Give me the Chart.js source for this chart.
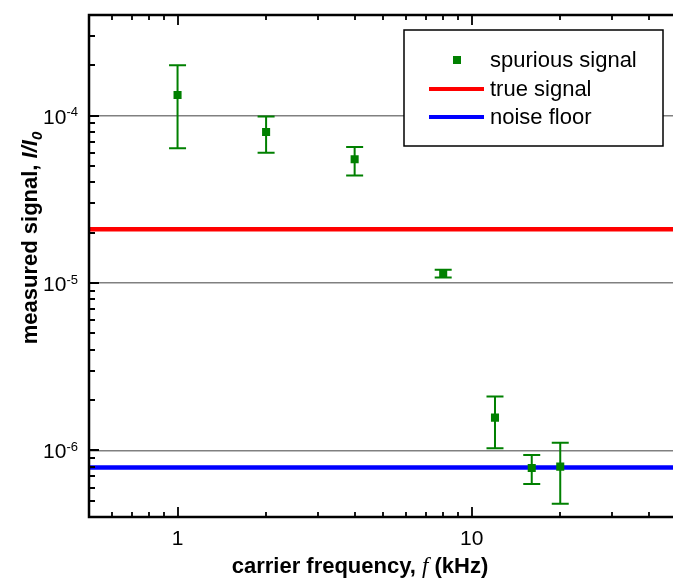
<!DOCTYPE html>
<html>
<head>
<meta charset="utf-8">
<script src="https://cdn.jsdelivr.net/npm/chart.js@4.4.1/dist/chart.umd.min.js"></script>
<style>
  html, body { margin: 0; padding: 0; background: #fff; overflow: hidden; }
  #wrap { width: 673px; height: 581px; overflow: hidden; }
</style>
</head>
<body>
<div id="wrap"><canvas id="chart" width="683" height="581"></canvas></div>
<script>
// carrier frequency (kHz) and measured spurious signal
const freqs   = [1, 2, 4, 8, 12, 16, 20];
const signal  = [1.33e-4, 8.0e-5, 5.5e-5, 1.14e-5, 1.57e-6, 7.85e-7, 8.0e-7];
const errHigh = [2.0e-4, 9.9e-5, 6.5e-5, 1.2e-5, 2.1e-6, 9.4e-7, 1.11e-6];
const errLow  = [6.4e-5, 6.0e-5, 4.4e-5, 1.08e-5, 1.03e-6, 6.3e-7, 4.8e-7];

// reference levels
const trueSignal = 2.1e-5;
const noiseFloor = 7.9e-7;

// axis ranges and tick labels
const xRange = [0.5, 50];
const yRange = [4e-7, 4e-4];
const xTickValues = [1, 10];
const xTickLabels = ['1', '10'];
const yTickValues = [1e-6, 1e-5, 1e-4];
const yTickExps = ['-6', '-5', '-4'];

const GREEN = '#008000';
const SANS = '"Liberation Sans", Arial, sans-serif';

function isDecade(v) {
    const l = Math.log10(v);
    return Math.abs(l - Math.round(l)) < 1e-6;
}

// minor tick values (1..9 of each decade) inside a range
function minorTicks(range) {
    const out = [];
    for (let e = Math.floor(Math.log10(range[0])); e <= Math.ceil(Math.log10(range[1])); e++) {
        for (let k = 1; k <= 9; k++) {
            const v = k * Math.pow(10, e);
            if (v > range[0] * 1.0001 && v < range[1] * 0.9999) out.push(v);
        }
    }
    return out;
}

// error bars, frame with inward ticks, labels, titles and legend
const decorations = {
    id: 'decorations',
    afterDatasetsDraw(chart) {
        const ctx = chart.ctx;
        const xs = chart.scales.x, ys = chart.scales.y;
        ctx.save();
        ctx.strokeStyle = GREEN;
        ctx.lineWidth = 2;
        freqs.forEach((f, i) => {
            const px = xs.getPixelForValue(f);
            const top = ys.getPixelForValue(errHigh[i]);
            const bot = ys.getPixelForValue(errLow[i]);
            ctx.beginPath();
            ctx.moveTo(px, top); ctx.lineTo(px, bot);
            ctx.moveTo(px - 8.5, top); ctx.lineTo(px + 8.5, top);
            ctx.moveTo(px - 8.5, bot); ctx.lineTo(px + 8.5, bot);
            ctx.stroke();
        });
        ctx.restore();
    },
    afterDraw(chart) {
        const ctx = chart.ctx;
        const a = chart.chartArea;
        const xs = chart.scales.x, ys = chart.scales.y;
        ctx.save();

        // frame
        ctx.strokeStyle = '#000';
        ctx.lineWidth = 2.5;
        ctx.strokeRect(a.left, a.top, a.right - a.left, a.bottom - a.top);

        // ticks (left, bottom, top)
        ctx.lineWidth = 1.8;
        ctx.beginPath();
        minorTicks(xRange).forEach(v => {
            const px = Math.round(xs.getPixelForValue(v));
            const len = isDecade(v) ? 10 : 5;
            ctx.moveTo(px, a.bottom); ctx.lineTo(px, a.bottom - len);
            ctx.moveTo(px, a.top); ctx.lineTo(px, a.top + len);
        });
        minorTicks(yRange).forEach(v => {
            const py = Math.round(ys.getPixelForValue(v));
            const len = isDecade(v) ? 10 : 6;
            ctx.moveTo(a.left, py); ctx.lineTo(a.left + len, py);
        });
        ctx.stroke();

        // tick labels
        ctx.fillStyle = '#000';
        ctx.font = '21px ' + SANS;
        ctx.textAlign = 'center';
        ctx.textBaseline = 'middle';
        xTickValues.forEach((v, i) => {
            ctx.fillText(xTickLabels[i], xs.getPixelForValue(v), a.bottom + 22);
        });
        yTickValues.forEach((v, i) => {
            const py = ys.getPixelForValue(v);
            ctx.font = '13px ' + SANS;
            ctx.textAlign = 'right';
            const ew = ctx.measureText(yTickExps[i]).width;
            ctx.fillText(yTickExps[i], 78, py - 3);
            ctx.font = '21px ' + SANS;
            ctx.fillText('10', 78 - ew, py + 2);
        });

        // x title
        const parts = [
            ['bold 22px ' + SANS, 'carrier frequency, '],
            ['italic 23px "Liberation Serif", serif', 'f'],
            ['bold 22px ' + SANS, ' (kHz)']
        ];
        let total = 0;
        parts.forEach(p => { ctx.font = p[0]; total += ctx.measureText(p[1]).width; });
        let x0 = 360 - total / 2;
        ctx.textAlign = 'left';
        ctx.textBaseline = 'alphabetic';
        parts.forEach(p => {
            ctx.font = p[0];
            ctx.fillText(p[1], x0, 573);
            x0 += ctx.measureText(p[1]).width;
        });

        // y title
        ctx.save();
        ctx.translate(37, 238);
        ctx.rotate(-Math.PI / 2);
        const yparts = [
            ['bold 22px ' + SANS, 'measured signal, ', 0],
            ['italic bold 22px ' + SANS, 'I/I', 0],
            ['italic bold 15px ' + SANS, '0', 5]
        ];
        total = 0;
        yparts.forEach(p => { ctx.font = p[0]; total += ctx.measureText(p[1]).width; });
        x0 = -total / 2;
        yparts.forEach(p => {
            ctx.font = p[0];
            ctx.fillText(p[1], x0, p[2]);
            x0 += ctx.measureText(p[1]).width;
        });
        ctx.restore();

        // legend
        ctx.fillStyle = '#fff';
        ctx.fillRect(404, 30, 259, 116);
        ctx.strokeStyle = '#000';
        ctx.lineWidth = 1.5;
        ctx.strokeRect(404, 30, 259, 116);
        const rows = [60, 89, 117];
        chart.data.datasets.forEach((ds, i) => {
            const y = rows[i];
            if (ds.type === 'scatter') {
                ctx.fillStyle = ds.backgroundColor;
                ctx.fillRect(453, y - 4, 8, 8);
            } else {
                ctx.strokeStyle = ds.borderColor;
                ctx.lineWidth = 4;
                ctx.beginPath();
                ctx.moveTo(429, y); ctx.lineTo(484, y);
                ctx.stroke();
            }
            ctx.fillStyle = '#000';
            ctx.font = '22px ' + SANS;
            ctx.textAlign = 'left';
            ctx.textBaseline = 'middle';
            ctx.fillText(ds.label, 490, y + 1);
        });

        ctx.restore();
    }
};

const ctx = document.getElementById('chart').getContext('2d');
const chart = new Chart(ctx, {
    data: {
        datasets: [{
            type: 'scatter',
            label: 'spurious signal',
            data: freqs.map((f, i) => ({ x: f, y: signal[i] })),
            backgroundColor: GREEN,
            borderColor: GREEN,
            borderWidth: 0,
            pointStyle: 'rect',
            pointRadius: 5.7
        }, {
            type: 'line',
            label: 'true signal',
            data: [{ x: xRange[0], y: trueSignal }, { x: xRange[1], y: trueSignal }],
            borderColor: '#ff0000',
            borderWidth: 4.5,
            pointRadius: 0
        }, {
            type: 'line',
            label: 'noise floor',
            data: [{ x: xRange[0], y: noiseFloor }, { x: xRange[1], y: noiseFloor }],
            borderColor: '#0000ff',
            borderWidth: 4.5,
            pointRadius: 0
        }]
    },
    options: {
        responsive: false,
        animation: false,
        devicePixelRatio: 1,
        layout: { padding: { left: 89, top: 15, right: 2, bottom: 64 } },
        plugins: { legend: { display: false }, tooltip: { enabled: false } },
        scales: {
            x: {
                type: 'logarithmic',
                min: xRange[0],
                max: xRange[1],
                ticks: { display: false },
                grid: { display: false, drawTicks: false },
                border: { display: false }
            },
            y: {
                type: 'logarithmic',
                min: yRange[0],
                max: yRange[1],
                ticks: { display: false },
                grid: {
                    drawTicks: false,
                    lineWidth: 1.5,
                    color: c => (c.tick && isDecade(c.tick.value)) ? '#808080' : 'rgba(0,0,0,0)'
                },
                border: { display: false }
            }
        }
    },
    plugins: [decorations]
});
</script>
</body>
</html>
